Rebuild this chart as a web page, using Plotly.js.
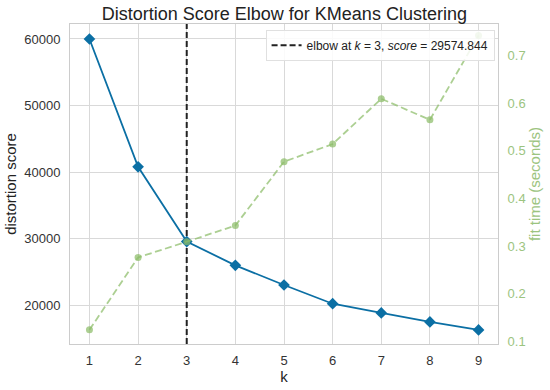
<!DOCTYPE html>
<html>
<head>
<meta charset="utf-8">
<script src="https://cdn.plot.ly/plotly-3.0.1.min.js"></script>
<style>html,body{margin:0;padding:0;background:#fff}#chart{width:550px;height:390px}</style>
</head>
<body>
<div id="chart"></div>
<script>
const kValues = [1, 2, 3, 4, 5, 6, 7, 8, 9];
const distortion = [60000, 40800, 29574.844, 26000, 23050, 20240, 18850, 17500, 16300];
const fitTime = [0.124, 0.276, 0.309, 0.343, 0.477, 0.514, 0.609, 0.565, 0.742];
const elbowK = 3;
const elbowScore = 29574.844;
const distTicks = [20000, 30000, 40000, 50000, 60000];
const timeTicks = [0.1, 0.2, 0.3, 0.4, 0.5, 0.6, 0.7];

const yRange = [14190, 62250];
const y2Range = [0.0943, 0.766];

const blue = '#0b6fa4';
const green = 'rgba(140,189,104,0.72)';
const greenText = '#9cc47f';
const font = 'Liberation Sans, Arial, sans-serif';

const traces = [
  {
    x: [elbowK, elbowK], y: yRange, mode: 'lines', xaxis: 'x', yaxis: 'y',
    line: {color: '#222', width: 2, dash: '6px,3px'},
    name: 'elbow at <i>k</i> = ' + elbowK + ', <i>score</i> = ' + elbowScore.toFixed(3),
    showlegend: true, hoverinfo: 'skip'
  },
  {
    x: kValues, y: distortion, mode: 'lines+markers', xaxis: 'x', yaxis: 'y',
    line: {color: blue, width: 1.8},
    marker: {symbol: 'diamond', size: 9, color: blue},
    showlegend: false
  },
  {
    x: kValues, y: fitTime, mode: 'lines+markers', xaxis: 'x', yaxis: 'y2',
    line: {color: green, width: 1.8, dash: '7px,3.5px'},
    marker: {symbol: 'circle', size: 7, color: green},
    showlegend: false
  }
];

const layout = {
  width: 550, height: 390,
  margin: {l: 70, r: 52, t: 24, b: 46},
  paper_bgcolor: '#fff', plot_bgcolor: '#fff',
  font: {family: font, size: 13, color: '#333'},
  title: {text: 'Distortion Score Elbow for KMeans Clustering', x: 0.517, xanchor: 'center', y: 0.966, yanchor: 'middle', font: {size: 18, color: '#222'}},
  xaxis: {
    range: [0.6, 9.4], tickvals: kValues, ticks: 'outside', ticklen: 4, tickcolor: 'rgba(0,0,0,0)',
    showgrid: true, gridcolor: '#d9d9d9', gridwidth: 1,
    showline: true, linecolor: '#cccccc', linewidth: 1, mirror: true, zeroline: false,
    title: {text: 'k', font: {size: 15, color: '#222'}, standoff: 0},
    tickfont: {size: 13, color: '#333'}
  },
  yaxis: {
    range: yRange, tickvals: distTicks, tickformat: 'd', ticks: 'outside', ticklen: 6, tickcolor: 'rgba(0,0,0,0)',
    showgrid: true, gridcolor: '#d9d9d9', gridwidth: 1,
    showline: true, linecolor: '#cccccc', linewidth: 1, mirror: true, zeroline: false,
    title: {text: 'distortion score', font: {size: 15, color: '#222'}, standoff: 3},
    tickfont: {size: 13, color: '#333'}
  },
  yaxis2: {
    overlaying: 'y', side: 'right', range: y2Range, tickvals: timeTicks,
    ticks: 'outside', ticklen: 6, tickcolor: 'rgba(0,0,0,0)',
    showgrid: false, zeroline: false, showline: false,
    tickfont: {size: 13, color: greenText},
    title: {text: 'fit time (seconds)', font: {size: 15, color: greenText}, standoff: 3}
  },
  showlegend: true,
  legend: {
    x: 0.992, xanchor: 'right', y: 0.982, yanchor: 'top',
    bgcolor: 'rgba(255,255,255,0.85)', bordercolor: '#e0e0e0', borderwidth: 1,
    font: {size: 12, color: '#222'}
  }
};

Plotly.newPlot('chart', traces, layout, {displayModeBar: false, staticPlot: true});
</script>
</body>
</html>
